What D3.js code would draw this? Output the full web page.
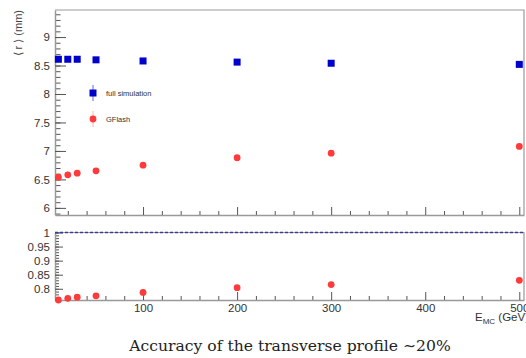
<!DOCTYPE html>
<html>
<head>
<meta charset="utf-8">
<script src="https://cdn.jsdelivr.net/npm/d3@7"></script>
<style>
  html, body { margin: 0; padding: 0; background: #fff; }
  svg { display: block; }
</style>
</head>
<body>
<svg id="chart" width="526" height="358"></svg>
<script>
// Beam energies (GeV)
const energies = [10, 20, 30, 50, 100, 200, 300, 500];
// Mean transverse radius <r> (mm)
const fullSim = [8.61, 8.61, 8.61, 8.60, 8.58, 8.56, 8.54, 8.52];
const gflash  = [6.54, 6.58, 6.61, 6.65, 6.75, 6.88, 6.96, 7.08];
// Ratio GFlash / full simulation
const ratio   = [0.760, 0.766, 0.770, 0.775, 0.787, 0.804, 0.815, 0.830];

const xTicks = [100, 200, 300, 400, 500];
const yTopTicks = [6, 6.5, 7, 7.5, 8, 8.5, 9];
const yBotTicks = [0.8, 0.85, 0.9, 0.95, 1];

const sans = "'Liberation Sans', Arial, sans-serif";
const serif = "'DejaVu Serif', 'Liberation Serif', serif";

const svg = d3.select("#chart");
const L = 55, R = 524;
const top1 = 10, bot1 = 215;
const top2 = 232.5, bot2 = 300;
const frameCol = "#999";
const blue = "#0000cc", red = "#ff3a3a";

const x = d3.scaleLinear().domain([6.4, 505]).range([L, R]);
const yTop = d3.scaleLinear().domain([5.875, 9.475]).range([bot1, top1]);
const yBot = d3.scaleLinear().domain([0.76, 1.0]).range([bot2, top2]);

function styleAxis(g) {
  g.attr("font-family", null).attr("font-size", null);
  g.selectAll("path.domain").attr("stroke", frameCol).attr("stroke-width", 1.5);
  g.selectAll(".tick line").attr("stroke", "#555");
  g.selectAll(".tick text").style("font-size", "11.5px").style("fill", "#333")
    .style("font-family", sans);
}

function panel(yScale, yT, yTop0, yBot0, majorLen, minorStep, showXLabels) {
  // frame (top and right edges)
  svg.append("path")
    .attr("d", `M${L},${yTop0}H${R}V${yBot0}`)
    .attr("fill", "none").attr("stroke", frameCol).attr("stroke-width", 1.2);

  // minor y ticks
  const dom = yScale.domain();
  const minors = d3.range(Math.ceil(dom[0] / minorStep), Math.floor(dom[1] / minorStep) + 1)
    .map(i => +(i * minorStep).toFixed(4));
  svg.append("g").attr("transform", `translate(${L},0)`)
    .call(d3.axisLeft(yScale).tickValues(minors).tickFormat("").tickSize(-majorLen / 2).tickSizeOuter(0))
    .call(g => g.select("path.domain").remove())
    .call(g => g.selectAll(".tick line").attr("stroke", "#555"));

  // major y ticks with labels
  svg.append("g").attr("transform", `translate(${L},0)`)
    .call(d3.axisLeft(yScale).tickValues(yT).tickFormat(d3.format("")).tickSize(-majorLen).tickSizeOuter(0).tickPadding(5))
    .call(styleAxis);

  // minor x ticks
  const xMin = d3.range(20, 501, 20).filter(v => v % 100 !== 0);
  svg.append("g").attr("transform", `translate(0,${yBot0})`)
    .call(d3.axisBottom(x).tickValues(xMin).tickFormat("").tickSize(-4).tickSizeOuter(0))
    .call(g => g.select("path.domain").remove())
    .call(g => g.selectAll(".tick line").attr("stroke", "#555"));

  // major x ticks
  svg.append("g").attr("transform", `translate(0,${yBot0})`)
    .call(d3.axisBottom(x).tickValues(xTicks).tickFormat(showXLabels ? d3.format("d") : "").tickSize(-8).tickSizeOuter(0).tickPadding(4))
    .call(styleAxis);
}

panel(yTop, yTopTicks, top1, bot1, 11, 0.1, false);
panel(yBot, yBotTicks, top2, bot2, 8, 0.01, true);

// reference line at ratio 1
svg.append("line")
  .attr("x1", L).attr("x2", R).attr("y1", yBot(1)).attr("y2", yBot(1))
  .attr("stroke", "#3a3aa0").attr("stroke-width", 1.3).attr("stroke-dasharray", "3,2");

// full simulation markers
svg.append("g").selectAll("rect").data(energies).join("rect")
  .attr("x", (d) => x(d) - 3.5).attr("y", (d, i) => yTop(fullSim[i]) - 3.5)
  .attr("width", 7).attr("height", 7).attr("fill", blue);

// GFlash markers
svg.append("g").selectAll("circle").data(energies).join("circle")
  .attr("cx", d => x(d)).attr("cy", (d, i) => yTop(gflash[i]))
  .attr("r", 3.4).attr("fill", red);

// ratio markers
svg.append("g").selectAll("circle").data(energies).join("circle")
  .attr("cx", d => x(d)).attr("cy", (d, i) => yBot(ratio[i]))
  .attr("r", 3.4).attr("fill", red);

// legend
const lx = 93;
svg.append("line").attr("x1", lx).attr("x2", lx).attr("y1", 85).attr("y2", 101)
  .attr("stroke", "#6b6bdd").attr("stroke-width", 1);
svg.append("rect").attr("x", lx - 3.5).attr("y", 89.5).attr("width", 7).attr("height", 7).attr("fill", blue);
svg.append("text").attr("x", 106).attr("y", 96)
  .style("font-family", sans).style("font-size", "7.5px").style("fill", "#333").text("full simulation");

svg.append("line").attr("x1", lx).attr("x2", lx).attr("y1", 111).attr("y2", 127)
  .attr("stroke", "#ffb0b0").attr("stroke-width", 1);
svg.append("circle").attr("cx", lx).attr("cy", 119).attr("r", 3.4).attr("fill", red);
svg.append("text").attr("x", 106).attr("y", 122)
  .style("font-family", sans).style("font-size", "7.5px").style("fill", "#333").text("GFlash");

// y axis title
svg.append("text")
  .attr("transform", "translate(22,10) rotate(-90)")
  .attr("text-anchor", "end")
  .style("font-family", sans).style("font-size", "11px").style("fill", "#444")
  .text("\u27E8 r \u27E9 (mm)");

// x axis title
const xt = svg.append("text").attr("x", 475).attr("y", 321)
  .style("font-family", sans).style("font-size", "11.5px").style("fill", "#333");
xt.append("tspan").text("E");
xt.append("tspan").style("font-size", "8px").attr("dy", 3).text("MC");
xt.append("tspan").attr("dy", -3).text(" (GeV)");

// caption
svg.append("text")
  .attr("x", 290).attr("y", 351).attr("text-anchor", "middle")
  .style("font-family", serif).style("font-size", "15.6px").style("fill", "#222")
  .text("Accuracy of the transverse profile \u223C20%");
</script>
</body>
</html>
